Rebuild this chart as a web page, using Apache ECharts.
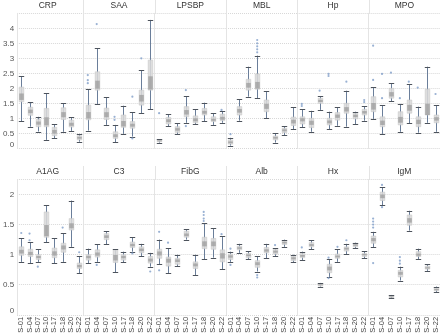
<!DOCTYPE html>
<html><head><meta charset="utf-8">
<script src="https://cdn.jsdelivr.net/npm/echarts@6/dist/echarts.min.js"></script>
<style>html,body{margin:0;padding:0;background:#fff}#c{width:440px;height:336px}</style>
</head><body><div id="c"></div>
<script>
const categories = ['S-01','S-04','S-07','S-10','S-17','S-18','S-20','S-22'];
const panelNames = ['CRP','SAA','LPSBP','MBL','Hp','MPO','A1AG','C3','FibG','Alb','Hx','IgM'];
const topTicksMax = 4.5, bottomTicksMax = 2.25;

// [min, q1, median, q3, max] per category
const CRP = [[0.9,1.55,1.72,2.04,2.4],[0.72,1.1,1.23,1.37,1.53],[0.56,0.72,0.84,0.96,1.05],[0.28,0.72,0.9,1.33,1.83],[0.33,0.42,0.55,0.7,0.8],[0.55,0.96,1.12,1.35,1.5],[0.58,0.71,0.8,0.94,1.03],[0.22,0.28,0.35,0.42,0.48]];
const SAA = [[0.59,0.95,1.1,1.44,1.97],[1.47,1.94,2.12,2.55,3.33],[0.78,0.96,1.12,1.34,1.7],[0.2,0.33,0.42,0.55,0.78],[0.48,0.7,0.82,1.11,1.42],[0.39,0.67,0.77,0.89,1.2],[1.17,1.44,1.67,1.94,2.61],[1.31,1.94,2.18,2.94,4.28]];
const LPSBP = [[0.19,0.22,0.25,0.29,0.31],[0.74,0.81,0.92,1.03,1.13],[0.47,0.53,0.63,0.72,0.83],[0.85,1.05,1.2,1.39,1.74],[0.81,0.85,0.95,1.08,1.3],[0.91,1.11,1.2,1.33,1.52],[0.78,0.89,0.95,1.05,1.17],[0.85,0.92,1.0,1.14,1.24]];
const MBL = [[0.09,0.14,0.2,0.28,0.35],[0.92,1.11,1.25,1.39,1.64],[1.72,1.94,2.1,2.3,2.72],[1.67,1.97,2.1,2.48,3.09],[1.0,1.22,1.4,1.61,1.91],[0.19,0.28,0.35,0.41,0.5],[0.44,0.52,0.6,0.67,0.74],[0.63,0.76,0.89,1.04,1.37]];
const Hp = [[0.7,0.81,0.95,1.05,1.3],[0.55,0.69,0.85,1.0,1.25],[1.28,1.5,1.58,1.67,1.74],[0.64,0.78,0.88,1.0,1.22],[0.75,0.94,1.07,1.19,1.37],[0.72,1.17,1.3,1.5,1.92],[0.8,0.98,1.08,1.17,1.22],[0.92,1.11,1.2,1.3,1.41]];
const MPO = [[0.98,1.22,1.4,1.72,2.03],[0.48,0.72,0.85,1.05,1.43],[1.56,1.67,1.8,2.0,2.17],[0.55,0.78,0.95,1.22,1.48],[0.83,1.17,1.35,1.61,2.14],[0.52,0.72,0.88,1.05,1.39],[0.85,1.11,1.3,1.97,2.72],[0.55,0.85,0.98,1.11,1.44]];
const A1AG = [[0.88,0.99,1.05,1.13,1.27],[0.86,0.97,1.02,1.09,1.21],[0.88,0.92,0.96,1.0,1.09],[1.21,1.29,1.4,1.71,1.82],[0.86,0.95,1.02,1.11,1.27],[0.88,1.04,1.12,1.19,1.36],[1.13,1.41,1.48,1.6,1.9],[0.69,0.77,0.81,0.86,0.97]];
const C3 = [[0.86,0.91,0.96,1.0,1.1],[0.88,0.96,1.01,1.08,1.17],[1.17,1.25,1.3,1.35,1.39],[0.71,0.87,0.95,1.08,1.09],[0.87,0.91,0.96,1.0,1.05],[1.05,1.12,1.16,1.21,1.29],[0.97,1.03,1.08,1.13,1.18],[0.8,0.86,0.91,0.97,1.03]];
const FibG = [[0.84,0.94,1.02,1.09,1.25],[0.69,0.81,0.9,0.96,1.11],[0.81,0.84,0.9,0.94,1.0],[1.25,1.29,1.33,1.39,1.42],[0.66,0.77,0.83,0.88,1.0],[0.92,1.1,1.18,1.29,1.52],[0.95,1.09,1.18,1.27,1.44],[0.76,0.88,0.98,1.08,1.31]];
const Alb = [[0.88,0.92,0.97,1.01,1.05],[1.03,1.08,1.11,1.14,1.18],[0.92,0.95,0.99,1.02,1.06],[0.72,0.79,0.85,0.9,0.97],[0.94,1.03,1.07,1.12,1.18],[0.97,1.01,1.05,1.09,1.11],[1.13,1.17,1.2,1.23,1.25],[0.87,0.9,0.94,0.98,1.0]];
const Hx = [[0.91,0.95,0.98,1.02,1.05],[1.09,1.13,1.16,1.2,1.24],[0.47,0.48,0.5,0.52,0.53],[0.63,0.7,0.77,0.84,0.92],[0.88,0.94,0.97,1.01,1.09],[1.01,1.06,1.1,1.13,1.18],[1.11,1.13,1.16,1.19,1.2],[0.94,0.97,1.0,1.02,1.06]];
const IgM = [[1.12,1.19,1.25,1.31,1.38],[1.82,1.9,1.97,2.04,2.12],[0.28,0.29,0.3,0.32,0.33],[0.57,0.63,0.69,0.74,0.8],[1.4,1.49,1.57,1.66,1.73],[0.92,0.97,1.0,1.05,1.1],[0.73,0.76,0.78,0.81,0.84],[0.38,0.4,0.42,0.45,0.47]];

// outliers: [categoryIndex, value]
const CRP_out = [];
const SAA_out = [[0,2.44],[0,2.27],[0,2.17],[1,4.14],[3,1.05],[3,0.95],[5,1.72],[5,0.33],[6,3.0]];
const LPSBP_out = [[0,1.17],[3,1.94],[3,0.74],[7,1.28]];
const MBL_out = [[0,0.47],[3,3.61],[3,3.5],[3,3.4],[3,3.3],[3,3.2]];
const Hp_out = [[0,1.48],[0,1.41],[2,1.92],[3,2.48],[3,2.41],[5,2.22],[7,1.61],[7,1.54]];
const MPO_out = [[0,3.42],[0,2.28],[1,2.48],[1,1.67],[2,2.52],[3,1.67],[4,2.22],[5,2.02],[7,1.81]];
const A1AG_out = [[0,1.36],[1,1.35],[1,1.24],[2,0.8],[5,1.45],[7,1.04]];
const C3_out = [[1,0.83],[5,1.02],[7,0.72]];
const FibG_out = [[0,1.38],[0,0.74],[1,1.2],[5,1.71],[5,1.66],[5,1.6],[5,1.56],[7,1.34]];
const Alb_out = [[0,0.83],[0,1.1],[3,0.66],[3,0.62],[5,1.16]];
const Hx_out = [[0,1.12],[3,0.95],[3,0.61],[4,1.13],[5,1.24]];
const IgM_out = [[0,1.6],[0,1.55],[0,1.5],[0,1.45],[0,0.86],[1,2.16],[1,1.79],[3,0.96],[3,0.9],[3,0.85]];

const boxes = [CRP,SAA,LPSBP,MBL,Hp,MPO,A1AG,C3,FibG,Alb,Hx,IgM];
const outs = [CRP_out,SAA_out,LPSBP_out,MBL_out,Hp_out,MPO_out,A1AG_out,C3_out,FibG_out,Alb_out,Hx_out,IgM_out];

// layout
const L = 12, R = 440, PW = (R - L) / 6;
const rows = [{top: 13.3, height: 135, hTop: 0, ymax: topTicksMax}, {top: 179.5, height: 135.3, hTop: 166, ymax: bottomTicksMax}];

function renderBox(params, api) {
  const xi = api.value(0);
  const vmin = api.value(1), q1 = api.value(2), med = api.value(3), q3 = api.value(4), vmax = api.value(5);
  const pMin = api.coord([xi, vmin]), pMax = api.coord([xi, vmax]);
  const pQ1 = api.coord([xi, q1]), pQ3 = api.coord([xi, q3]);
  const iqr = q3 - q1;
  const bLo = Math.max(q1, med - 0.22 * iqr), bHi = Math.min(q3, med + 0.22 * iqr);
  const pbLo = api.coord([xi, bLo]), pbHi = api.coord([xi, bHi]);
  const cx = Math.round(pMin[0]) + 0.5;
  const bw = 4.6, cw = 5.4;
  return {type: 'group', children: [
    {type: 'line', shape: {x1: cx, y1: pMin[1], x2: cx, y2: pMax[1]}, style: {stroke: '#6a7e9a', lineWidth: 1}},
    {type: 'rect', shape: {x: cx - bw/2, y: pQ3[1], width: bw, height: Math.max(1, pQ1[1] - pQ3[1])}, style: {fill: 'rgba(218,218,218,0.88)', stroke: '#c9c9c9', lineWidth: 0.6}},
    {type: 'rect', shape: {x: cx - bw/2, y: pbHi[1], width: bw, height: Math.max(1, pbLo[1] - pbHi[1])}, style: {fill: 'rgba(160,160,160,0.8)'}},
    {type: 'line', shape: {x1: cx - cw/2, y1: Math.round(pMin[1]) + 0.5, x2: cx + cw/2, y2: Math.round(pMin[1]) + 0.5}, style: {stroke: '#4d535c', lineWidth: 1}},
    {type: 'line', shape: {x1: cx - cw/2, y1: Math.round(pMax[1]) + 0.5, x2: cx + cw/2, y2: Math.round(pMax[1]) + 0.5}, style: {stroke: '#4d535c', lineWidth: 1}}
  ]};
}

const grid = [], xAxis = [], yAxis = [], series = [], graphic = [];
panelNames.forEach((name, p) => {
  const r = Math.floor(p / 6), c = p % 6;
  const row = rows[r];
  const left = L + c * PW;
  grid.push({left: left, top: row.top, width: PW, height: row.height, containLabel: false});
  xAxis.push({
    type: 'category', gridIndex: p, data: categories, boundaryGap: true,
    axisLine: {show: false}, axisTick: {show: false}, splitLine: {show: false},
    axisLabel: {show: r === 1, rotate: 90, interval: 0, fontSize: 7.5, color: '#444', margin: 2, fontFamily: 'Liberation Sans'}
  });
  yAxis.push({
    type: 'value', gridIndex: p, min: 0, max: row.ymax, interval: 0.5,
    axisLine: {show: true, lineStyle: {color: '#e4e4e4', width: 1}},
    axisTick: {show: false},
    splitLine: {show: true, lineStyle: {color: '#d8d8d8', type: 'dotted', width: 1}},
    axisLabel: {
      show: c === 0, fontSize: 8, color: '#555', margin: 3, fontFamily: 'Liberation Sans',
      showMaxLabel: false,
      formatter: v => v === 0 ? '{z|0}' : String(v),
      rich: {z: {fontSize: 8, color: '#555', padding: [0, 0, 8, 0], fontFamily: 'Liberation Sans'}}
    }
  });
  series.push({
    type: 'custom', xAxisIndex: p, yAxisIndex: p, renderItem: renderBox,
    encode: {x: 0, y: [1, 2, 3, 4, 5]},
    data: boxes[p].map((b, i) => [i].concat(b)), z: 2
  });
  series.push({
    type: 'scatter', xAxisIndex: p, yAxisIndex: p, symbolSize: 2.2,
    itemStyle: {color: '#7f9dc8'}, data: outs[p], z: 3
  });
  graphic.push({
    type: 'text', left: null, x: left + PW / 2, y: row.hTop + (r === 0 ? 1.5 : 1.5),
    style: {text: name, fill: '#333', fontSize: 8.5, fontFamily: 'Liberation Sans', align: 'center', verticalAlign: 'top'}
  });
  if (c > 0) {
    graphic.push({
      type: 'line', shape: {x1: Math.round(left) + 0.5, y1: row.hTop, x2: Math.round(left) + 0.5, y2: row.top},
      style: {stroke: '#e4e4e4', lineWidth: 1}
    });
  }
});

const chart = echarts.init(document.getElementById('c'), null, {renderer: 'canvas'});
chart.setOption({
  backgroundColor: '#fff', animation: false,
  grid, xAxis, yAxis, series, graphic
});
</script></body></html>
